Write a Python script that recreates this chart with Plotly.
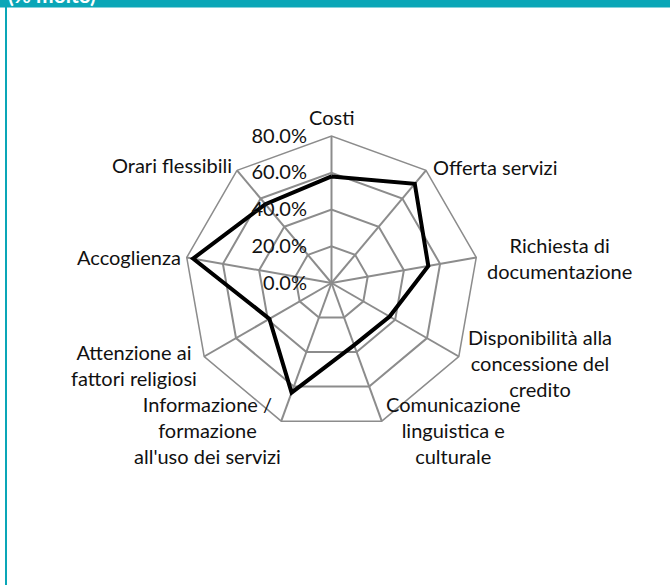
import math
import plotly.graph_objects as go

# categorie e valori (% molto)
categorie = [
    "Costi",
    "Offerta servizi",
    "Richiesta di<br>documentazione",
    "Disponibilità alla<br>concessione del<br>credito",
    "Comunicazione<br>linguistica e<br>culturale",
    "Informazione /<br>formazione<br>all'uso dei servizi",
    "Attenzione ai<br>fattori religiosi",
    "Accoglienza",
    "Orari flessibili",
]
valori = [58, 70.5, 53.5, 36.5, 36, 63.5, 39, 76.5, 56]
tick_vals = [0, 20, 40, 60, 80]
tick_testi = [f"{v:.1f}%" for v in tick_vals]

W, H = 670, 586
teal = "#0aa6b7"
grigio = "#8c8c8c"
FONT = "Lato"

fig = go.Figure()
fig.add_trace(go.Scatterpolar(
    r=valori + valori[:1],
    theta=categorie + categorie[:1],
    mode="lines",
    line=dict(color="black", width=4),
    showlegend=False,
))

# geometria del grafico polare (centro e raggio in px)
cx, cy, rad = 331.5, 283, 147

# etichette delle categorie come annotazioni (testo centrato su piu righe)
# (xanchor, yanchor, dx, dy) rispetto al vertice esterno
posiz = [
    ("center", "bottom", 0, -5),
    ("left", "middle", 5, -3),
    ("left", "middle", 9, 1),
    ("left", "middle", 7, 6),
    ("left", "middle", 2, 9),
    ("right", "middle", 2, 9),
    ("right", "middle", -5, 8),
    ("right", "middle", -4, 0),
    ("right", "middle", -3, -5),
]
annot = []
n = len(categorie)
for i, (testo, (xa, ya, dx, dy)) in enumerate(zip(categorie, posiz)):
    th = math.radians(360 / n * i)
    px_ = cx + rad * math.sin(th) + dx
    py_ = cy - rad * math.cos(th) + dy
    annot.append(dict(
        text=testo, xref="paper", yref="paper",
        x=px_ / W, y=1 - py_ / H, xanchor=xa, yanchor=ya, align="center",
        showarrow=False, font=dict(family=FONT, size=20, color="#111111"),
    ))

# titolo tagliato in alto (testo bianco sulla fascia)
annot.append(dict(
    text="<b>(% molto)</b>", xref="paper", yref="paper",
    x=6 / W, y=1, xanchor="left", yanchor="bottom", yshift=-9,
    showarrow=False, font=dict(family=FONT, size=21, color="white"),
))

fig.update_layout(
    width=W, height=H,
    margin=dict(l=0, r=0, t=0, b=0),
    paper_bgcolor="white",
    font=dict(family=FONT, size=20, color="#111111"),
    polar=dict(
        domain=dict(x=[(cx - rad) / W, (cx + rad) / W],
                    y=[1 - (cy + rad) / H, 1 - (cy - rad) / H]),
        gridshape="linear",
        bgcolor="white",
        angularaxis=dict(
            direction="clockwise", rotation=90,
            linecolor=grigio, linewidth=1.5,
            gridcolor=grigio, gridwidth=1.5,
            ticks="", showticklabels=False,
        ),
        radialaxis=dict(
            range=[0, 80], tickmode="array",
            tickvals=tick_vals, ticktext=tick_testi,
            angle=90, tickangle=90, side="counterclockwise",
            showline=False, ticks="outside", ticklen=17,
            tickcolor="rgba(0,0,0,0)",
            gridcolor=grigio, gridwidth=1.5,
            tickfont=dict(family=FONT, size=20),
        ),
    ),
    shapes=[
        dict(type="rect", xref="paper", yref="paper",
             x0=0, x1=1, y0=1 - 7.5 / H, y1=1,
             fillcolor=teal, line_width=0, layer="below"),
        dict(type="rect", xref="paper", yref="paper",
             x0=5 / W, x1=7 / W, y0=1 - 585 / H, y1=1,
             fillcolor=teal, line_width=0, layer="above"),
    ],
    annotations=annot,
)

fig.write_html("out.html", config={"displayModeBar": False},
               post_script="document.body.style.margin='0';")
